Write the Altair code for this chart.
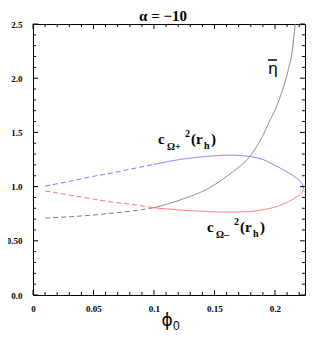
import altair as alt
import pandas as pd

W, H = 272, 271
XMAX = 0.2248
SPLIT = 0.10

# curve data
blue_phi = [0.010, 0.030, 0.050, 0.062, 0.080, 0.100, 0.1215, 0.140, 0.163, 0.179, 0.190, 0.201, 0.210, 0.218, 0.2215, 0.223, 0.2235]
blue_val = [1.005, 1.048, 1.095, 1.118, 1.160, 1.205, 1.250, 1.275, 1.290, 1.278, 1.250, 1.190, 1.135, 1.077, 1.040, 1.012, 0.985]
red_phi = [0.010, 0.030, 0.050, 0.062, 0.080, 0.100, 0.1215, 0.140, 0.160, 0.175, 0.185, 0.201, 0.210, 0.218, 0.2215, 0.223, 0.2235]
red_val = [0.960, 0.922, 0.885, 0.862, 0.838, 0.805, 0.784, 0.772, 0.765, 0.768, 0.778, 0.815, 0.855, 0.907, 0.935, 0.958, 0.985]
gray_phi = [0.010, 0.030, 0.050, 0.062, 0.080, 0.100, 0.1215, 0.146, 0.163, 0.179, 0.188, 0.196, 0.202, 0.207, 0.211, 0.214, 0.2165, 0.2175]
gray_val = [0.710, 0.722, 0.738, 0.752, 0.772, 0.805, 0.876, 0.990, 1.120, 1.276, 1.430, 1.614, 1.760, 1.919, 2.080, 2.230, 2.470, 2.560]

curves = ["cplus", "cminus", "eta"]
colors = ["#7878ff", "#ff7878", "#808080"]

x_major = [0, 0.05, 0.1, 0.15, 0.2]
x_minor = [0.01, 0.02, 0.03, 0.04, 0.06, 0.07, 0.08, 0.09, 0.11, 0.12, 0.13, 0.14,
           0.16, 0.17, 0.18, 0.19, 0.21, 0.22]
y_major = [0, 0.5, 1.0, 1.5, 2.0, 2.5]
y_minor = [0.1, 0.2, 0.3, 0.4, 0.6, 0.7, 0.8, 0.9, 1.1, 1.2, 1.3, 1.4,
           1.6, 1.7, 1.8, 1.9, 2.1, 2.2, 2.3, 2.4]

rows = []
for name, ps, vs in [("cplus", blue_phi, blue_val), ("cminus", red_phi, red_val), ("eta", gray_phi, gray_val)]:
    for p, v in zip(ps, vs):
        if p <= SPLIT:
            rows.append({"curve": name, "phi": p, "val": v, "part": "dash"})
        if p >= SPLIT:
            rows.append({"curve": name, "phi": p, "val": v, "part": "solid"})
df = pd.DataFrame(rows)

lab = dict(labelFont="Liberation Serif", labelFontWeight="bold", labelFontSize=9,
           labelColor="black", domain=False, ticks=False, grid=False, title="",
           labelFlush=False, labelOverlap=False)
xs = alt.Scale(domain=[0, XMAX], nice=False, zero=False)
ys = alt.Scale(domain=[0, 2.5], nice=False, zero=False)
X = alt.X("phi:Q", scale=xs, axis=alt.Axis(values=x_major, format="~g", labelPadding=9, **lab))
Y = alt.Y("val:Q", scale=ys, axis=alt.Axis(values=y_major, labelPadding=11,
          labelExpr="datum.value == 0.5 ? '0.50' : format(datum.value, '.1f')", **lab))

lines = alt.Chart(df).mark_line(strokeWidth=1, clip=True, interpolate="monotone").encode(
    x=X, y=Y,
    color=alt.Color("curve:N", scale=alt.Scale(domain=curves, range=colors), legend=None),
    strokeDash=alt.StrokeDash("part:N", scale=alt.Scale(domain=["dash", "solid"], range=[[5, 3], [1, 0]]), legend=None),
    detail="curve:N",
    order="phi:Q",
)

def xticks(vals, length, top):
    return alt.Chart(pd.DataFrame({"phi": vals})).mark_rule(color="black", strokeWidth=1).encode(
        x=X, y=alt.value(0 if top else H), y2=alt.value(length if top else H - length))

def yticks(vals, length, right):
    return alt.Chart(pd.DataFrame({"val": vals})).mark_rule(color="black", strokeWidth=1).encode(
        y=Y, x=alt.value(W if right else 0), x2=alt.value(W - length if right else length))

ticks = [xticks(x_major, 5, False), xticks(x_minor, 3, False), xticks(x_major, 5, True), xticks(x_minor, 3, True),
         yticks(y_major, 5, False), yticks(y_minor, 3, False), yticks(y_major, 5, True), yticks(y_minor, 3, True)]

def txt(s, x, y, size, font="Liberation Serif", weight="bold", align="left"):
    return alt.Chart(alt.Data(values=[{}])).mark_text(
        text=s, fontSize=size, font=font, fontWeight=weight, align=align,
        baseline="alphabetic", color="black").encode(x=alt.value(x), y=alt.value(y))

def clabel(x0, y0, sub):
    return [
        txt("c", x0, y0, 15),
        txt(sub, x0 + 9, y0 + 6, 10),
        txt("2", x0 + 27, y0 - 7, 10),
        txt("(r", x0 + 33, y0, 15),
        txt("h", x0 + 46, y0 + 5, 10),
        txt(")", x0 + 53, y0, 15),
    ]

bar = alt.Chart(alt.Data(values=[{}])).mark_rule(color="black", strokeWidth=1.5).encode(
    x=alt.value(235), x2=alt.value(244), y=alt.value(36))

texts = [txt("α = −10", 130, -3, 15, align="center")]
texts += clabel(125, 120, "Ω+")
texts += clabel(174, 208, "Ω–")
texts += [txt("η", 240, 50, 17, font="Liberation Sans", weight="normal", align="center"), bar]
texts += [txt("ϕ", 134, 302, 17, font="DejaVu Sans", weight="normal", align="center"),
          txt("0", 140, 306, 12, font="Liberation Sans", weight="normal")]

chart = alt.layer(lines, *ticks, *texts).properties(
    width=W, height=H,
    padding={"left": 25, "top": 16, "right": 6, "bottom": 39},
    autosize=alt.AutoSizeParams(type="none"),
).configure_view(stroke="black", strokeWidth=1)

chart.save("out.html", embed_options={"renderer": "svg", "actions": False})
